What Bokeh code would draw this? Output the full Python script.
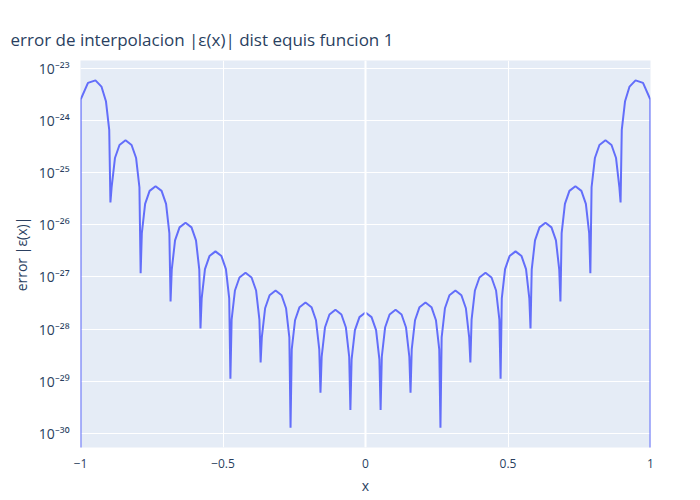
import numpy as np
from bokeh.plotting import figure
from bokeh.models import FixedTicker, CustomJSTickFormatter, Span, Range1d
from bokeh.embed import file_html
from bokeh.resources import INLINE

# node positions (zeros of the error)
nodes = [-1.0, -0.895, -0.789, -0.684, -0.579, -0.474, -0.368, -0.263, -0.158, -0.053,
         0.053, 0.158, 0.263, 0.368, 0.474, 0.579, 0.684, 0.789, 0.895, 1.0]
# log10 of the sampled dip values at each node (ends drop to plot bottom)
dip_log = [-30.3, -25.57, -26.93, -27.47, -27.99, -28.95, -28.64, -29.89, -29.22, -29.55,
           -29.55, -29.22, -29.89, -28.64, -28.95, -27.99, -27.47, -26.93, -25.57, -30.3]
# log10 of peak value of each lobe between consecutive nodes
peak_log = [-23.23, -24.38, -25.26, -25.96, -26.51, -26.92, -27.26, -27.49, -27.63, -27.68,
            -27.63, -27.49, -27.26, -26.92, -26.51, -25.96, -25.26, -24.38, -23.23]
# lobe profile: fraction across lobe and decades below the peak (read shape)
prof_t = [0.04, 0.15, 0.3, 0.5, 0.7, 0.85, 0.96]
prof_d = [-0.9, -0.34, -0.09, 0.0, -0.09, -0.34, -0.9]

xs, ys = [], []
for i in range(len(peak_log)):
    a, b = nodes[i], nodes[i + 1]
    xs.append(a); ys.append(10 ** dip_log[i])
    if i == 0:
        xs.append(a + 0.0005); ys.append(10 ** -23.6)
        prof = [(0.25, -0.05), (0.5, 0.0), (0.7, -0.12), (0.85, -0.4), (0.96, -0.95)]
    elif i == len(peak_log) - 1:
        prof = [(0.04, -0.95), (0.15, -0.4), (0.3, -0.12), (0.5, 0.0), (0.75, -0.05)]
    else:
        prof = list(zip(prof_t, prof_d))
    for t, d in prof:
        xs.append(a + t * (b - a)); ys.append(10 ** (peak_log[i] + d))
    if i == len(peak_log) - 1:
        xs.append(b - 0.0005); ys.append(10 ** -23.6)
xs.append(nodes[-1]); ys.append(10 ** dip_log[-1])

p = figure(width=700, height=500, y_axis_type="log", output_backend="svg",
           toolbar_location=None, x_range=Range1d(-1, 1),
           y_range=Range1d(10 ** -30.27, 10 ** -22.85),
           min_border_left=80, min_border_right=50, min_border_top=60, min_border_bottom=53)
p.title.text = "error de interpolacion |ε(x)| dist equis funcion 1"
p.title.text_font = "Open Sans"
p.title.text_font_size = "17px"
p.title.text_font_style = "normal"
p.title.text_color = "#2a3f5f"
p.title.offset = -70
p.title.standoff = 20
p.background_fill_color = "#E5ECF6"
p.border_fill_color = "white"
p.outline_line_color = None

p.line(xs, ys, line_color="#636EFA", line_width=2)

p.xaxis.ticker = FixedTicker(ticks=[-1, -0.5, 0, 0.5, 1])
p.xaxis.major_label_overrides = {-1: "−1", -0.5: "−0.5", 0: "0", 0.5: "0.5", 1: "1"}
p.yaxis.ticker = FixedTicker(ticks=[10.0 ** k for k in range(-30, -22)], minor_ticks=[])
p.yaxis.formatter = CustomJSTickFormatter(code="""
const e = Math.round(Math.log10(tick));
const sup = {'-':'⁻','0':'⁰','1':'¹','2':'²','3':'³','4':'⁴','5':'⁵','6':'⁶','7':'⁷','8':'⁸','9':'⁹'};
return '10' + String(e).split('').map(c => sup[c]).join('');
""")
for ax in (p.xaxis, p.yaxis):
    ax.axis_line_color = None
    ax.major_tick_line_color = None
    ax.minor_tick_line_color = None
    ax.major_label_text_color = "#2a3f5f"
    ax.major_label_text_font = "Open Sans"
    ax.axis_label_text_color = "#2a3f5f"
    ax.axis_label_text_font = "Open Sans"
    ax.axis_label_text_font_style = "normal"
    ax.axis_label_text_font_size = "14px"
p.xaxis.major_label_text_font_size = "12px"
p.yaxis.major_label_text_font_size = "14px"
p.xaxis.axis_label = "x"
p.yaxis.axis_label = "error |ε(x)|"
p.grid.grid_line_color = "white"
p.grid.grid_line_width = 1
p.add_layout(Span(location=0, dimension="height", line_color="white", line_width=2))

open("out.html", "w").write(file_html(p, INLINE))
